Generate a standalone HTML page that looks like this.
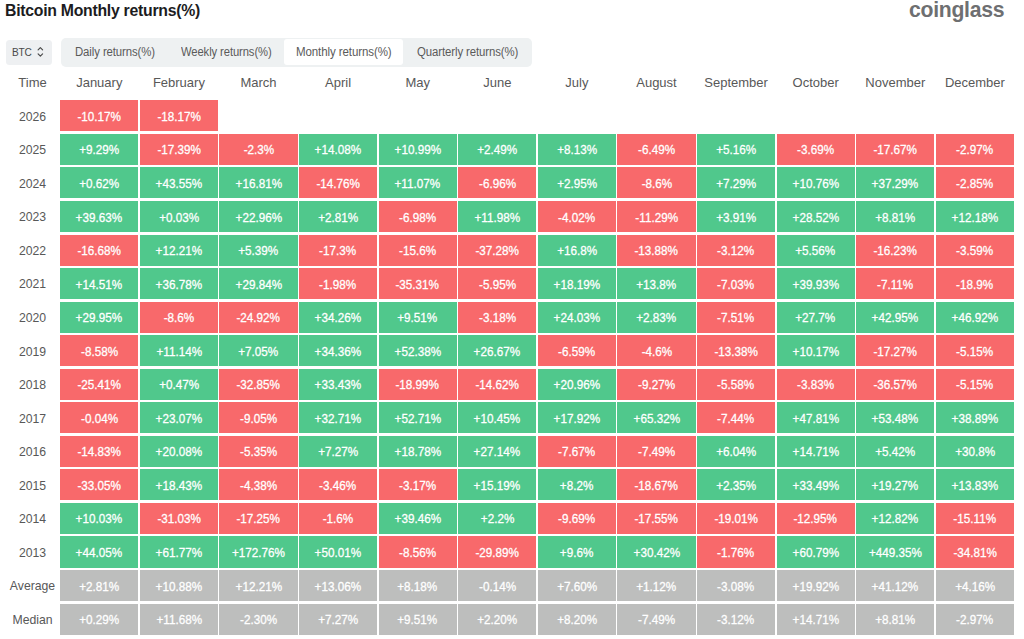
<!DOCTYPE html>
<html><head><meta charset="utf-8"><title>Bitcoin Monthly returns(%)</title>
<style>
html,body{margin:0;padding:0;background:#fff;}
body{width:1024px;height:639px;overflow:hidden;position:relative;font-family:"Liberation Sans",Arial,sans-serif;}
.t{position:absolute;white-space:nowrap;}
.title{left:4.8px;top:1.1px;font-size:17px;font-weight:bold;color:#1c1c1e;letter-spacing:-0.3px;transform:scaleX(0.931);transform-origin:0 0;}
.logo{left:909.3px;top:-3px;font-size:22px;font-weight:bold;color:#6e6f71;letter-spacing:-0.3px;transform:scaleX(0.963);transform-origin:0 0;}
.sel{position:absolute;left:6px;top:39.5px;width:46px;height:25px;background:#eef0f2;border-radius:3.5px;}
.sel span{position:absolute;left:5.5px;top:6px;font-size:11.5px;color:#4a4a4a;letter-spacing:-0.3px;transform:scaleX(0.88);transform-origin:0 0;}
.sel svg{position:absolute;left:31px;top:6px;}
.tabs{position:absolute;left:60.5px;top:37.5px;width:471.5px;height:29px;background:#eef1f2;border-radius:5px;}
.tab{position:absolute;top:7px;font-size:12px;color:#5a5a5a;letter-spacing:-0.1px;transform-origin:0 0;}
.tabon{position:absolute;left:223px;top:1.3px;width:119px;height:26px;background:#fff;border-radius:3px;}
.hd{position:absolute;top:75.2px;font-size:13px;color:#585858;text-align:center;letter-spacing:0px;}
.yl{position:absolute;left:4px;width:57px;font-size:13px;color:#585858;text-align:center;letter-spacing:0px;transform:scaleX(0.94);}
.c{position:absolute;height:31.1px;width:78.2px;color:#fff;font-size:13px;text-align:center;line-height:31.1px;}
.c span{display:inline-block;position:relative;top:0.6px;transform:scaleX(0.9);letter-spacing:0px;-webkit-text-stroke:0.3px #fff;}
.g{background:#50c88c;}
.r{background:#f8696b;}
.n{background:#bdbebd;}
</style></head><body>
<div class="t title">Bitcoin Monthly returns(%)</div>
<div class="t logo">coinglass</div>
<div class="sel"><span>BTC</span><svg width="8" height="13" viewBox="0 0 8 13"><path d="M1.1 3.9 L3.35 1.6 L5.6 3.9 M1.1 7.8 L3.35 10.1 L5.6 7.8" fill="none" stroke="#4a4a4a" stroke-width="1.15" stroke-linecap="round" stroke-linejoin="round"/></svg></div>
<div class="tabs"><div class="tabon"></div>
<div class="tab" style="left:14.6px;transform:scaleX(0.948)">Daily returns(%)</div>
<div class="tab" style="left:120px;transform:scaleX(0.936)">Weekly returns(%)</div>
<div class="tab" style="left:235px;transform:scaleX(0.96)">Monthly returns(%)</div>
<div class="tab" style="left:356px;transform:scaleX(0.949)">Quarterly returns(%)</div>
</div>

<div class="yl" style="top:75.2px;transform:none">Time</div>
<div class="hd" style="left:60.20px;width:78.2px">January</div>
<div class="hd" style="left:139.80px;width:78.2px">February</div>
<div class="hd" style="left:219.40px;width:78.2px">March</div>
<div class="hd" style="left:299.00px;width:78.2px">April</div>
<div class="hd" style="left:378.60px;width:78.2px">May</div>
<div class="hd" style="left:458.20px;width:78.2px">June</div>
<div class="hd" style="left:537.80px;width:78.2px">July</div>
<div class="hd" style="left:617.40px;width:78.2px">August</div>
<div class="hd" style="left:697.00px;width:78.2px">September</div>
<div class="hd" style="left:776.60px;width:78.2px">October</div>
<div class="hd" style="left:856.20px;width:78.2px">November</div>
<div class="hd" style="left:935.80px;width:78.2px">December</div>
<div class="yl" style="top:108.70px">2026</div>
<div class="c r" style="left:60.20px;top:100.30px"><span>-10.17%</span></div>
<div class="c r" style="left:139.80px;top:100.30px"><span>-18.17%</span></div>
<div class="yl" style="top:142.25px">2025</div>
<div class="c g" style="left:60.20px;top:133.85px"><span>+9.29%</span></div>
<div class="c r" style="left:139.80px;top:133.85px"><span>-17.39%</span></div>
<div class="c r" style="left:219.40px;top:133.85px"><span>-2.3%</span></div>
<div class="c g" style="left:299.00px;top:133.85px"><span>+14.08%</span></div>
<div class="c g" style="left:378.60px;top:133.85px"><span>+10.99%</span></div>
<div class="c g" style="left:458.20px;top:133.85px"><span>+2.49%</span></div>
<div class="c g" style="left:537.80px;top:133.85px"><span>+8.13%</span></div>
<div class="c r" style="left:617.40px;top:133.85px"><span>-6.49%</span></div>
<div class="c g" style="left:697.00px;top:133.85px"><span>+5.16%</span></div>
<div class="c r" style="left:776.60px;top:133.85px"><span>-3.69%</span></div>
<div class="c r" style="left:856.20px;top:133.85px"><span>-17.67%</span></div>
<div class="c r" style="left:935.80px;top:133.85px"><span>-2.97%</span></div>
<div class="yl" style="top:175.80px">2024</div>
<div class="c g" style="left:60.20px;top:167.40px"><span>+0.62%</span></div>
<div class="c g" style="left:139.80px;top:167.40px"><span>+43.55%</span></div>
<div class="c g" style="left:219.40px;top:167.40px"><span>+16.81%</span></div>
<div class="c r" style="left:299.00px;top:167.40px"><span>-14.76%</span></div>
<div class="c g" style="left:378.60px;top:167.40px"><span>+11.07%</span></div>
<div class="c r" style="left:458.20px;top:167.40px"><span>-6.96%</span></div>
<div class="c g" style="left:537.80px;top:167.40px"><span>+2.95%</span></div>
<div class="c r" style="left:617.40px;top:167.40px"><span>-8.6%</span></div>
<div class="c g" style="left:697.00px;top:167.40px"><span>+7.29%</span></div>
<div class="c g" style="left:776.60px;top:167.40px"><span>+10.76%</span></div>
<div class="c g" style="left:856.20px;top:167.40px"><span>+37.29%</span></div>
<div class="c r" style="left:935.80px;top:167.40px"><span>-2.85%</span></div>
<div class="yl" style="top:209.35px">2023</div>
<div class="c g" style="left:60.20px;top:200.95px"><span>+39.63%</span></div>
<div class="c g" style="left:139.80px;top:200.95px"><span>+0.03%</span></div>
<div class="c g" style="left:219.40px;top:200.95px"><span>+22.96%</span></div>
<div class="c g" style="left:299.00px;top:200.95px"><span>+2.81%</span></div>
<div class="c r" style="left:378.60px;top:200.95px"><span>-6.98%</span></div>
<div class="c g" style="left:458.20px;top:200.95px"><span>+11.98%</span></div>
<div class="c r" style="left:537.80px;top:200.95px"><span>-4.02%</span></div>
<div class="c r" style="left:617.40px;top:200.95px"><span>-11.29%</span></div>
<div class="c g" style="left:697.00px;top:200.95px"><span>+3.91%</span></div>
<div class="c g" style="left:776.60px;top:200.95px"><span>+28.52%</span></div>
<div class="c g" style="left:856.20px;top:200.95px"><span>+8.81%</span></div>
<div class="c g" style="left:935.80px;top:200.95px"><span>+12.18%</span></div>
<div class="yl" style="top:242.90px">2022</div>
<div class="c r" style="left:60.20px;top:234.50px"><span>-16.68%</span></div>
<div class="c g" style="left:139.80px;top:234.50px"><span>+12.21%</span></div>
<div class="c g" style="left:219.40px;top:234.50px"><span>+5.39%</span></div>
<div class="c r" style="left:299.00px;top:234.50px"><span>-17.3%</span></div>
<div class="c r" style="left:378.60px;top:234.50px"><span>-15.6%</span></div>
<div class="c r" style="left:458.20px;top:234.50px"><span>-37.28%</span></div>
<div class="c g" style="left:537.80px;top:234.50px"><span>+16.8%</span></div>
<div class="c r" style="left:617.40px;top:234.50px"><span>-13.88%</span></div>
<div class="c r" style="left:697.00px;top:234.50px"><span>-3.12%</span></div>
<div class="c g" style="left:776.60px;top:234.50px"><span>+5.56%</span></div>
<div class="c r" style="left:856.20px;top:234.50px"><span>-16.23%</span></div>
<div class="c r" style="left:935.80px;top:234.50px"><span>-3.59%</span></div>
<div class="yl" style="top:276.45px">2021</div>
<div class="c g" style="left:60.20px;top:268.05px"><span>+14.51%</span></div>
<div class="c g" style="left:139.80px;top:268.05px"><span>+36.78%</span></div>
<div class="c g" style="left:219.40px;top:268.05px"><span>+29.84%</span></div>
<div class="c r" style="left:299.00px;top:268.05px"><span>-1.98%</span></div>
<div class="c r" style="left:378.60px;top:268.05px"><span>-35.31%</span></div>
<div class="c r" style="left:458.20px;top:268.05px"><span>-5.95%</span></div>
<div class="c g" style="left:537.80px;top:268.05px"><span>+18.19%</span></div>
<div class="c g" style="left:617.40px;top:268.05px"><span>+13.8%</span></div>
<div class="c r" style="left:697.00px;top:268.05px"><span>-7.03%</span></div>
<div class="c g" style="left:776.60px;top:268.05px"><span>+39.93%</span></div>
<div class="c r" style="left:856.20px;top:268.05px"><span>-7.11%</span></div>
<div class="c r" style="left:935.80px;top:268.05px"><span>-18.9%</span></div>
<div class="yl" style="top:310.00px">2020</div>
<div class="c g" style="left:60.20px;top:301.60px"><span>+29.95%</span></div>
<div class="c r" style="left:139.80px;top:301.60px"><span>-8.6%</span></div>
<div class="c r" style="left:219.40px;top:301.60px"><span>-24.92%</span></div>
<div class="c g" style="left:299.00px;top:301.60px"><span>+34.26%</span></div>
<div class="c g" style="left:378.60px;top:301.60px"><span>+9.51%</span></div>
<div class="c r" style="left:458.20px;top:301.60px"><span>-3.18%</span></div>
<div class="c g" style="left:537.80px;top:301.60px"><span>+24.03%</span></div>
<div class="c g" style="left:617.40px;top:301.60px"><span>+2.83%</span></div>
<div class="c r" style="left:697.00px;top:301.60px"><span>-7.51%</span></div>
<div class="c g" style="left:776.60px;top:301.60px"><span>+27.7%</span></div>
<div class="c g" style="left:856.20px;top:301.60px"><span>+42.95%</span></div>
<div class="c g" style="left:935.80px;top:301.60px"><span>+46.92%</span></div>
<div class="yl" style="top:343.55px">2019</div>
<div class="c r" style="left:60.20px;top:335.15px"><span>-8.58%</span></div>
<div class="c g" style="left:139.80px;top:335.15px"><span>+11.14%</span></div>
<div class="c g" style="left:219.40px;top:335.15px"><span>+7.05%</span></div>
<div class="c g" style="left:299.00px;top:335.15px"><span>+34.36%</span></div>
<div class="c g" style="left:378.60px;top:335.15px"><span>+52.38%</span></div>
<div class="c g" style="left:458.20px;top:335.15px"><span>+26.67%</span></div>
<div class="c r" style="left:537.80px;top:335.15px"><span>-6.59%</span></div>
<div class="c r" style="left:617.40px;top:335.15px"><span>-4.6%</span></div>
<div class="c r" style="left:697.00px;top:335.15px"><span>-13.38%</span></div>
<div class="c g" style="left:776.60px;top:335.15px"><span>+10.17%</span></div>
<div class="c r" style="left:856.20px;top:335.15px"><span>-17.27%</span></div>
<div class="c r" style="left:935.80px;top:335.15px"><span>-5.15%</span></div>
<div class="yl" style="top:377.10px">2018</div>
<div class="c r" style="left:60.20px;top:368.70px"><span>-25.41%</span></div>
<div class="c g" style="left:139.80px;top:368.70px"><span>+0.47%</span></div>
<div class="c r" style="left:219.40px;top:368.70px"><span>-32.85%</span></div>
<div class="c g" style="left:299.00px;top:368.70px"><span>+33.43%</span></div>
<div class="c r" style="left:378.60px;top:368.70px"><span>-18.99%</span></div>
<div class="c r" style="left:458.20px;top:368.70px"><span>-14.62%</span></div>
<div class="c g" style="left:537.80px;top:368.70px"><span>+20.96%</span></div>
<div class="c r" style="left:617.40px;top:368.70px"><span>-9.27%</span></div>
<div class="c r" style="left:697.00px;top:368.70px"><span>-5.58%</span></div>
<div class="c r" style="left:776.60px;top:368.70px"><span>-3.83%</span></div>
<div class="c r" style="left:856.20px;top:368.70px"><span>-36.57%</span></div>
<div class="c r" style="left:935.80px;top:368.70px"><span>-5.15%</span></div>
<div class="yl" style="top:410.65px">2017</div>
<div class="c r" style="left:60.20px;top:402.25px"><span>-0.04%</span></div>
<div class="c g" style="left:139.80px;top:402.25px"><span>+23.07%</span></div>
<div class="c r" style="left:219.40px;top:402.25px"><span>-9.05%</span></div>
<div class="c g" style="left:299.00px;top:402.25px"><span>+32.71%</span></div>
<div class="c g" style="left:378.60px;top:402.25px"><span>+52.71%</span></div>
<div class="c g" style="left:458.20px;top:402.25px"><span>+10.45%</span></div>
<div class="c g" style="left:537.80px;top:402.25px"><span>+17.92%</span></div>
<div class="c g" style="left:617.40px;top:402.25px"><span>+65.32%</span></div>
<div class="c r" style="left:697.00px;top:402.25px"><span>-7.44%</span></div>
<div class="c g" style="left:776.60px;top:402.25px"><span>+47.81%</span></div>
<div class="c g" style="left:856.20px;top:402.25px"><span>+53.48%</span></div>
<div class="c g" style="left:935.80px;top:402.25px"><span>+38.89%</span></div>
<div class="yl" style="top:444.20px">2016</div>
<div class="c r" style="left:60.20px;top:435.80px"><span>-14.83%</span></div>
<div class="c g" style="left:139.80px;top:435.80px"><span>+20.08%</span></div>
<div class="c r" style="left:219.40px;top:435.80px"><span>-5.35%</span></div>
<div class="c g" style="left:299.00px;top:435.80px"><span>+7.27%</span></div>
<div class="c g" style="left:378.60px;top:435.80px"><span>+18.78%</span></div>
<div class="c g" style="left:458.20px;top:435.80px"><span>+27.14%</span></div>
<div class="c r" style="left:537.80px;top:435.80px"><span>-7.67%</span></div>
<div class="c r" style="left:617.40px;top:435.80px"><span>-7.49%</span></div>
<div class="c g" style="left:697.00px;top:435.80px"><span>+6.04%</span></div>
<div class="c g" style="left:776.60px;top:435.80px"><span>+14.71%</span></div>
<div class="c g" style="left:856.20px;top:435.80px"><span>+5.42%</span></div>
<div class="c g" style="left:935.80px;top:435.80px"><span>+30.8%</span></div>
<div class="yl" style="top:477.75px">2015</div>
<div class="c r" style="left:60.20px;top:469.35px"><span>-33.05%</span></div>
<div class="c g" style="left:139.80px;top:469.35px"><span>+18.43%</span></div>
<div class="c r" style="left:219.40px;top:469.35px"><span>-4.38%</span></div>
<div class="c r" style="left:299.00px;top:469.35px"><span>-3.46%</span></div>
<div class="c r" style="left:378.60px;top:469.35px"><span>-3.17%</span></div>
<div class="c g" style="left:458.20px;top:469.35px"><span>+15.19%</span></div>
<div class="c g" style="left:537.80px;top:469.35px"><span>+8.2%</span></div>
<div class="c r" style="left:617.40px;top:469.35px"><span>-18.67%</span></div>
<div class="c g" style="left:697.00px;top:469.35px"><span>+2.35%</span></div>
<div class="c g" style="left:776.60px;top:469.35px"><span>+33.49%</span></div>
<div class="c g" style="left:856.20px;top:469.35px"><span>+19.27%</span></div>
<div class="c g" style="left:935.80px;top:469.35px"><span>+13.83%</span></div>
<div class="yl" style="top:511.30px">2014</div>
<div class="c g" style="left:60.20px;top:502.90px"><span>+10.03%</span></div>
<div class="c r" style="left:139.80px;top:502.90px"><span>-31.03%</span></div>
<div class="c r" style="left:219.40px;top:502.90px"><span>-17.25%</span></div>
<div class="c r" style="left:299.00px;top:502.90px"><span>-1.6%</span></div>
<div class="c g" style="left:378.60px;top:502.90px"><span>+39.46%</span></div>
<div class="c g" style="left:458.20px;top:502.90px"><span>+2.2%</span></div>
<div class="c r" style="left:537.80px;top:502.90px"><span>-9.69%</span></div>
<div class="c r" style="left:617.40px;top:502.90px"><span>-17.55%</span></div>
<div class="c r" style="left:697.00px;top:502.90px"><span>-19.01%</span></div>
<div class="c r" style="left:776.60px;top:502.90px"><span>-12.95%</span></div>
<div class="c g" style="left:856.20px;top:502.90px"><span>+12.82%</span></div>
<div class="c r" style="left:935.80px;top:502.90px"><span>-15.11%</span></div>
<div class="yl" style="top:544.85px">2013</div>
<div class="c g" style="left:60.20px;top:536.45px"><span>+44.05%</span></div>
<div class="c g" style="left:139.80px;top:536.45px"><span>+61.77%</span></div>
<div class="c g" style="left:219.40px;top:536.45px"><span>+172.76%</span></div>
<div class="c g" style="left:299.00px;top:536.45px"><span>+50.01%</span></div>
<div class="c r" style="left:378.60px;top:536.45px"><span>-8.56%</span></div>
<div class="c r" style="left:458.20px;top:536.45px"><span>-29.89%</span></div>
<div class="c g" style="left:537.80px;top:536.45px"><span>+9.6%</span></div>
<div class="c g" style="left:617.40px;top:536.45px"><span>+30.42%</span></div>
<div class="c r" style="left:697.00px;top:536.45px"><span>-1.76%</span></div>
<div class="c g" style="left:776.60px;top:536.45px"><span>+60.79%</span></div>
<div class="c g" style="left:856.20px;top:536.45px"><span>+449.35%</span></div>
<div class="c r" style="left:935.80px;top:536.45px"><span>-34.81%</span></div>
<div class="yl" style="top:578.40px">Average</div>
<div class="c n" style="left:60.20px;top:570.00px"><span>+2.81%</span></div>
<div class="c n" style="left:139.80px;top:570.00px"><span>+10.88%</span></div>
<div class="c n" style="left:219.40px;top:570.00px"><span>+12.21%</span></div>
<div class="c n" style="left:299.00px;top:570.00px"><span>+13.06%</span></div>
<div class="c n" style="left:378.60px;top:570.00px"><span>+8.18%</span></div>
<div class="c n" style="left:458.20px;top:570.00px"><span>-0.14%</span></div>
<div class="c n" style="left:537.80px;top:570.00px"><span>+7.60%</span></div>
<div class="c n" style="left:617.40px;top:570.00px"><span>+1.12%</span></div>
<div class="c n" style="left:697.00px;top:570.00px"><span>-3.08%</span></div>
<div class="c n" style="left:776.60px;top:570.00px"><span>+19.92%</span></div>
<div class="c n" style="left:856.20px;top:570.00px"><span>+41.12%</span></div>
<div class="c n" style="left:935.80px;top:570.00px"><span>+4.16%</span></div>
<div class="yl" style="top:611.95px">Median</div>
<div class="c n" style="left:60.20px;top:603.55px"><span>+0.29%</span></div>
<div class="c n" style="left:139.80px;top:603.55px"><span>+11.68%</span></div>
<div class="c n" style="left:219.40px;top:603.55px"><span>-2.30%</span></div>
<div class="c n" style="left:299.00px;top:603.55px"><span>+7.27%</span></div>
<div class="c n" style="left:378.60px;top:603.55px"><span>+9.51%</span></div>
<div class="c n" style="left:458.20px;top:603.55px"><span>+2.20%</span></div>
<div class="c n" style="left:537.80px;top:603.55px"><span>+8.20%</span></div>
<div class="c n" style="left:617.40px;top:603.55px"><span>-7.49%</span></div>
<div class="c n" style="left:697.00px;top:603.55px"><span>-3.12%</span></div>
<div class="c n" style="left:776.60px;top:603.55px"><span>+14.71%</span></div>
<div class="c n" style="left:856.20px;top:603.55px"><span>+8.81%</span></div>
<div class="c n" style="left:935.80px;top:603.55px"><span>-2.97%</span></div>
</body></html>
